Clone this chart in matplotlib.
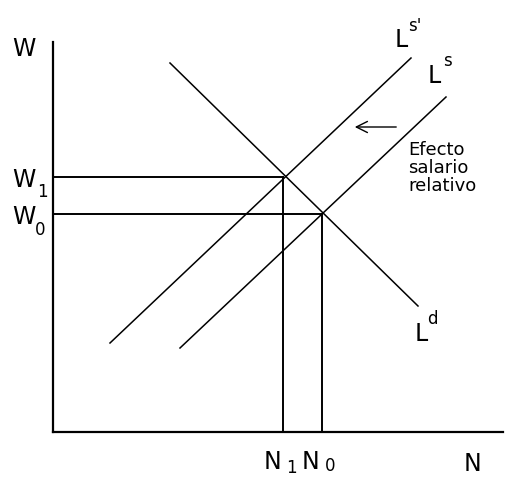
import matplotlib
matplotlib.use("Agg")
import matplotlib.pyplot as plt

# Curves (N, W) end points, origin at the axes corner
ld_n = [117, 365]
ld_w = [369, 126]
ls1_n = [57, 358]     # L^s' (shifted supply)
ls1_w = [89, 374]
ls0_n = [127, 393]    # L^s
ls0_w = [84, 335]

# Equilibria
n1, w1 = 230, 255
n0, w0 = 269, 218

axis_len_n = 450
axis_len_w = 390

plt.rcParams['font.family'] = ['DejaVu Sans']

fig = plt.figure(figsize=(5.09, 4.84), dpi=100)
ax = fig.add_axes([0, 0, 1, 1])
ax.set_xlim(-53, 456)
ax.set_ylim(-52, 432)

ax.spines['top'].set_visible(False)
ax.spines['right'].set_visible(False)
ax.spines['left'].set_position(('data', 0))
ax.spines['bottom'].set_position(('data', 0))
ax.spines['left'].set_bounds(0, axis_len_w)
ax.spines['bottom'].set_bounds(0, axis_len_n)
ax.spines['left'].set_linewidth(1.6)
ax.spines['bottom'].set_linewidth(1.6)
ax.set_xticks([])
ax.set_yticks([])

lw = 1.1
ax.plot(ld_n, ld_w, color='black', lw=lw)
ax.plot(ls1_n, ls1_w, color='black', lw=lw)
ax.plot(ls0_n, ls0_w, color='black', lw=lw)

# guide lines
ax.plot([0, n1], [w1, w1], color='black', lw=1.4)
ax.plot([0, n0], [w0, w0], color='black', lw=1.4)
ax.plot([n1, n1], [0, w1], color='black', lw=1.4)
ax.plot([n0, n0], [0, w0], color='black', lw=1.4)

# shift arrow
ax.annotate('', xy=(299, 305), xytext=(346, 305),
            arrowprops=dict(arrowstyle='->', color='black', lw=1.0,
                            mutation_scale=20))
ax.text(355, 264, 'Efecto\nsalario\nrelativo', fontsize=13,
        ha='left', va='center', linespacing=1.02)

fs = 17
sub = 12
ax.text(-29, 383, 'W', fontsize=fs, ha='center', va='center')
ax.text(-29, 252, 'W', fontsize=fs, ha='center', va='center')
ax.text(-11, 240, '1', fontsize=sub, ha='center', va='center')
ax.text(-29, 215, 'W', fontsize=fs, ha='center', va='center')
ax.text(-13, 202, '0', fontsize=sub, ha='center', va='center')

ax.text(348, 392, 'L', fontsize=fs, ha='center', va='center')
ax.text(362, 406, "s'", fontsize=sub, ha='center', va='center')
ax.text(381, 356, 'L', fontsize=fs, ha='center', va='center')
ax.text(394, 371, 's', fontsize=sub, ha='center', va='center')
ax.text(368, 98, 'L', fontsize=fs, ha='center', va='center')
ax.text(379, 113, 'd', fontsize=sub, ha='center', va='center')

ax.text(220, -30, 'N', fontsize=fs, ha='center', va='center')
ax.text(238, -36, '1', fontsize=sub, ha='center', va='center')
ax.text(258, -30, 'N', fontsize=fs, ha='center', va='center')
ax.text(277, -34, '0', fontsize=sub, ha='center', va='center')
ax.text(420, -32, 'N', fontsize=fs, ha='center', va='center')

fig.savefig('out.png', dpi=100)
